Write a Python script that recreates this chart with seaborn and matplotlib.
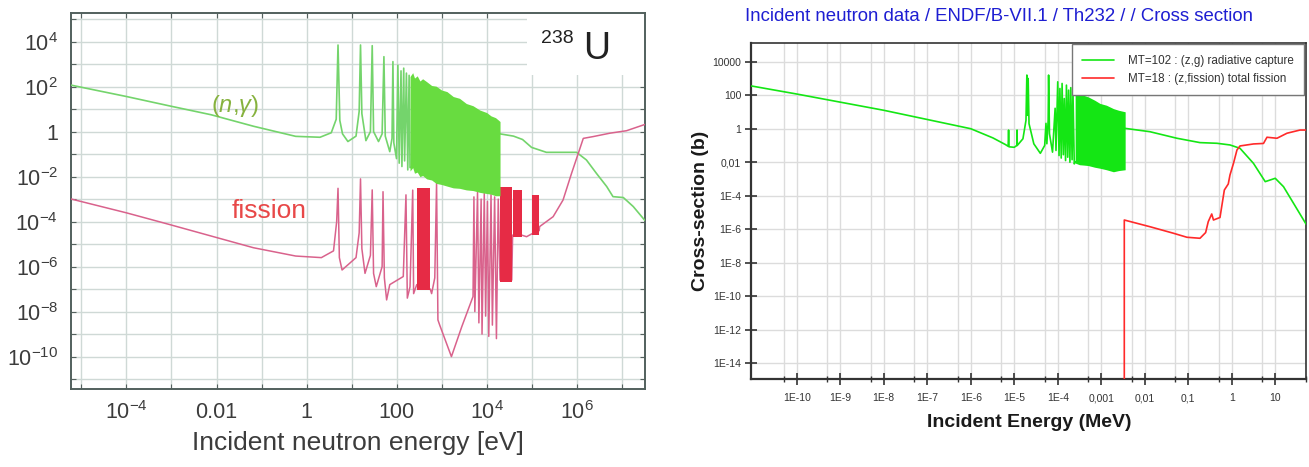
import numpy as np
import seaborn as sns
import matplotlib.pyplot as plt
from matplotlib.patches import Rectangle
from matplotlib.ticker import FixedLocator, FixedFormatter, NullLocator

# values are log10 numbers
# --- left panel: U-238, energy in eV, cross section in barn
u_cap_logE = [-5.24, -4.0, -3.06, -2.12, -1.18, -0.24, 0.30, 0.55, 0.66, 0.70, 0.74, 0.80,
              0.92, 1.10, 1.17, 1.20, 1.23, 1.32, 1.42, 1.46, 1.49, 1.60, 1.68, 1.72, 1.75,
              1.85, 1.90, 1.92, 1.94, 2.00, 2.03, 2.06, 2.10, 2.12, 2.16, 2.18, 2.22, 2.25,
              2.28, 2.30, 4.30, 4.60, 4.80, 5.00, 5.33, 6.00, 6.22, 6.44,
              6.67, 6.81, 7.04, 7.26, 7.52]
u_cap_logS = [2.07, 1.56, 1.15, 0.75, 0.24, -0.21, -0.25, -0.05, 0.55, 3.85, 0.50, -0.10,
              -0.44, -0.20, 0.90, 3.85, 0.80, -0.40, 0.00, 3.82, 0.00, -0.44, -0.10, 3.33, -0.20,
              -0.89, -0.30, 3.11, -0.50, -1.20, 2.95, -1.40, 2.70, -1.55, 2.82, -1.30, 2.60,
              -1.70, 2.50, -1.60, -0.10, -0.20, -0.35, -0.70, -0.92, -0.92, -1.26,
              -1.85, -2.44, -2.89, -2.93, -3.33, -3.95]
u_cap_band_logE = [2.30, 2.36, 2.40, 2.46, 2.52, 2.58, 2.67, 2.78, 2.88, 3.00, 3.12, 3.26,
                   3.40, 3.55, 3.70, 3.85, 4.00, 4.10, 4.20, 4.26, 4.30]
u_cap_band_top = [2.45, 2.62, 2.38, 2.48, 2.25, 2.35, 2.22, 2.05, 2.02, 1.85, 1.78, 1.56,
                  1.48, 1.25, 1.15, 0.96, 0.85, 0.70, 0.62, 0.52, 0.45]
u_cap_band_bot = [-1.75, -1.60, -1.85, -1.80, -2.00, -1.95, -2.10, -2.15, -2.30, -2.35,
                  -2.42, -2.50, -2.52, -2.59, -2.62, -2.70, -2.75, -2.78, -2.85, -2.85, -2.85]

u_fis_logE = [-5.24, -4.0, -3.06, -2.12, -1.18, -0.24, 0.33, 0.60, 0.67, 0.70, 0.73, 0.79,
              1.10, 1.17, 1.20, 1.23, 1.30, 1.42, 1.46, 1.49, 1.55, 1.68, 1.70, 1.73, 1.78,
              1.85, 2.15, 2.21, 2.24, 2.30, 2.36, 2.38, 2.45, 2.75, 2.78, 2.85, 2.89, 2.92,
              2.96, 3.22, 3.45, 3.70, 3.72, 3.74, 3.80, 3.83, 3.88, 3.90, 3.95, 3.98, 4.02,
              4.05, 4.10, 4.13, 4.18, 4.22, 4.26, 4.30, 4.56, 4.58, 4.78, 4.89, 5.00, 5.17,
              5.18, 5.48, 5.70, 5.89, 6.04, 6.15, 6.37, 6.74, 7.11, 7.52]
u_fis_logS = [-2.99, -3.61, -4.12, -4.64, -5.16, -5.53, -5.60, -5.30, -4.00, -2.52, -5.60, -6.15,
              -5.60, -4.50, -2.10, -5.20, -6.30, -5.50, -2.59, -6.30, -6.89, -6.00, -2.67, -6.50, -7.48,
              -6.80, -6.44, -2.81, -7.40, -6.90, -2.60, -7.20, -6.80, -7.00, -7.20, -6.50, -2.29, -8.37,
              -8.60, -10.0, -8.67, -7.33, -2.90, -8.00, -2.70, -8.50, -3.00, -9.00, -2.75, -8.20, -3.10,
              -9.10, -2.80, -8.60, -2.90, -9.20, -3.00, -6.60, -6.60, -4.60, -4.60, -4.67, -4.55, -4.40,
              -4.22, -3.78, -3.04, -1.85, -0.96, -0.30, -0.22, -0.07, 0.04, 0.32]
u_fis_band_start = [2.45, 4.30, 4.58, 5.00]
u_fis_band_end = [2.75, 4.56, 4.78, 5.17]
u_fis_band_top = [-2.52, -2.44, -2.60, -2.81]
u_fis_band_bot = [-7.04, -6.67, -4.67, -4.59]

left_x_exp = list(range(-5, 8))
left_x_labels = ["", r"$\mathregular{10^{-4}}$", "", "0.01", "", "1", "", "100", "",
                 r"$\mathregular{10^{4}}$", "", r"$\mathregular{10^{6}}$", ""]
left_y_exp = list(range(-11, 6))
left_y_labels = ["", r"$\mathregular{10^{-10}}$", "", r"$\mathregular{10^{-8}}$", "",
                 r"$\mathregular{10^{-6}}$", "", r"$\mathregular{10^{-4}}$", "",
                 r"$\mathregular{10^{-2}}$", "", "1", "", r"$\mathregular{10^{2}}$", "",
                 r"$\mathregular{10^{4}}$", ""]

# --- right panel: Th-232, energy in MeV
th_cap_logE = [-11.04, -10.0, -8.0, -6.0, -5.49, -5.20, -5.14, -5.13, -5.12, -5.00, -4.94,
               -4.935, -4.93, -4.80, -4.73, -4.71, -4.70, -4.68, -4.66, -4.55, -4.40, -4.30,
               -4.27, -4.25, -4.22, -4.21, -4.19, -4.12, -4.06, -4.04, -4.00, -3.97, -3.95,
               -3.92, -3.90, -3.87, -3.85, -3.82, -3.80, -3.77, -3.75, -3.72, -3.70, -3.67,
               -3.65, -3.62, -3.60, -2.45, -1.88,
               -1.26, -0.73, -0.34, -0.04, 0.19, 0.50, 0.77, 1.00, 1.19, 1.42, 1.71]
th_cap_logS = [2.55, 2.07, 1.10, 0.00, -0.55, -0.95, -1.05, -0.08, -1.08, -1.11, -1.00,
               -0.08, -1.00, -0.60, 0.50, 3.20, 0.80, 3.00, 0.30, -0.90, -1.47, -1.00,
               0.32, -0.90, 0.50, 3.20, -0.30, -1.40, 1.22, -1.30, 2.80, -1.60, 2.40,
               -1.75, 2.70, -1.55, 1.80, -1.90, 2.60, -1.70, 2.30, -2.00, 2.45, -1.85,
               2.20, -2.10, -2.00, 0.02, -0.18,
               -0.57, -0.83, -0.87, -0.97, -1.17, -2.07, -3.16, -2.96, -3.46, -4.45, -5.70]
th_cap_band_logE = [-3.60, -3.50, -3.41, -3.30, -3.15, -3.03, -2.88, -2.72, -2.60, -2.45]
th_cap_band_top = [2.25, 2.10, 2.00, 1.90, 1.70, 1.51, 1.40, 1.20, 1.10, 1.01]
th_cap_band_bot = [-2.05, -2.15, -2.17, -2.20, -2.30, -2.36, -2.45, -2.57, -2.50, -2.45]

th_fis_logE = [-2.47, -2.47, -1.88, -1.34, -1.03, -0.73, -0.60, -0.54, -0.46, -0.42, -0.27,
               -0.17, -0.12, -0.08, -0.04, 0.04, 0.12, 0.19, 0.50, 0.73, 0.81, 1.04, 1.27,
               1.57, 1.71]
th_fis_logS = [-16.0, -5.45, -5.85, -6.24, -6.48, -6.54, -6.20, -5.55, -5.09, -5.45, -5.30,
               -3.66, -3.46, -3.30, -2.76, -2.07, -1.27, -1.03, -0.91, -0.88, -0.51, -0.57,
               -0.27, -0.08, -0.08]

right_x_exp = list(range(-10, 2))
right_x_labels = ["1E-10", "1E-9", "1E-8", "1E-7", "1E-6", "1E-5", "1E-4", "0,001",
                  "0,01", "0,1", "1", "10"]
right_y_exp = [4, 2, 0, -2, -4, -6, -8, -10, -12, -14]
right_y_labels = ["10000", "100", "1", "0,01", "1E-4", "1E-6", "1E-8", "1E-10",
                  "1E-12", "1E-14"]


def exp10(v):
    return 10.0 ** np.asarray(v, dtype=float)


sns.set_style("ticks")
plt.rcParams["font.family"] = ["Liberation Sans", "DejaVu Sans"]
plt.rcParams["mathtext.fontset"] = "custom"
plt.rcParams["mathtext.rm"] = "Liberation Sans"
plt.rcParams["mathtext.it"] = "Liberation Sans:italic"

fig = plt.figure(figsize=(13.09, 4.67), dpi=100)
ax1 = fig.add_axes([0.054, 0.167, 0.4387, 0.806])
ax2 = fig.add_axes([0.5741, 0.1895, 0.4237, 0.7193])

# ---------------- left: U-238
sns.lineplot(x=exp10(u_cap_logE), y=exp10(u_cap_logS), ax=ax1, sort=False,
             estimator=None, color="#74d46c", lw=1.2, zorder=3)
ax1.fill_between(exp10(u_cap_band_logE), exp10(u_cap_band_bot), exp10(u_cap_band_top),
                 color="#68dc40", lw=0, zorder=4)
sns.lineplot(x=exp10(u_fis_logE), y=exp10(u_fis_logS), ax=ax1, sort=False,
             estimator=None, color="#d9628c", lw=1.1, zorder=3)
for s, e, t, b in zip(u_fis_band_start, u_fis_band_end, u_fis_band_top, u_fis_band_bot):
    ax1.fill_between(exp10([s, e]), exp10([b, b]), exp10([t, t]), color="#e62b45",
                     lw=0, zorder=3.5)

ax1.set(xscale="log", yscale="log", xlim=(10 ** -5.24, 10 ** 7.52),
        ylim=(10 ** -11.44, 10 ** 5.29))
ax1.xaxis.set_major_locator(FixedLocator(exp10(left_x_exp)))
ax1.xaxis.set_major_formatter(FixedFormatter(left_x_labels))
ax1.xaxis.set_minor_locator(NullLocator())
ax1.yaxis.set_major_locator(FixedLocator(exp10(left_y_exp)))
ax1.yaxis.set_major_formatter(FixedFormatter(left_y_labels))
ax1.yaxis.set_minor_locator(NullLocator())
ax1.tick_params(which="major", direction="in", length=3.5, width=0.8, color="#55625f",
                top=True, right=True, labelsize=15.5, labelcolor="#3c3c3c", pad=9)
ax1.grid(True, which="major", color="#cfd9d6", lw=1.0)
ax1.set_axisbelow(True)
for sp in ax1.spines.values():
    sp.set_color("#52605d")
    sp.set_linewidth(1.4)
ax1.set_xlabel("Incident neutron energy [eV]", fontsize=19, color="#3c3c3c", labelpad=5)
ax1.set_ylabel("")

ax1.add_patch(Rectangle((0.795, 0.834), 0.205, 0.166, transform=ax1.transAxes,
                        facecolor="white", edgecolor="none", zorder=1.5))
ax1.text(0.819, 0.930, "238", transform=ax1.transAxes, fontsize=14, color="#222222",
         ha="left", va="center", zorder=5)
ax1.text(0.892, 0.904, "U", transform=ax1.transAxes, fontsize=27, color="#222222",
         ha="left", va="center", zorder=5)
ax1.text(10 ** -1.58, 10 ** 1.12, r"$(n{,}\gamma)$", fontsize=17, color="#86b23e",
         ha="center", va="center", zorder=5)
ax1.text(10 ** -0.84, 10 ** -3.52, "fission", fontsize=19, color="#e84848",
         ha="center", va="center", zorder=5)

# ---------------- right: Th-232
ax2.fill_between(exp10(th_cap_band_logE), exp10(th_cap_band_bot), exp10(th_cap_band_top),
                 color="#14e614", lw=0, zorder=4)
sns.lineplot(x=exp10(th_cap_logE), y=exp10(th_cap_logS), ax=ax2, sort=False,
             estimator=None, color="#14e614", lw=1.2, zorder=3,
             label="MT=102 : (z,g) radiative capture")
sns.lineplot(x=exp10(th_fis_logE), y=exp10(th_fis_logS), ax=ax2, sort=False,
             estimator=None, color="#ff2a2a", lw=1.2, zorder=3,
             label="MT=18 : (z,fission) total fission")

ax2.set(xscale="log", yscale="log", xlim=(10 ** -11.04, 10 ** 1.71),
        ylim=(10 ** -14.91, 10 ** 5.14))
ax2.xaxis.set_major_locator(FixedLocator(exp10(right_x_exp)))
ax2.xaxis.set_major_formatter(FixedFormatter(right_x_labels))
ax2.xaxis.set_minor_locator(FixedLocator([5 * 10.0 ** n for n in range(-11, 2)]))
ax2.yaxis.set_major_locator(FixedLocator(exp10(right_y_exp)))
ax2.yaxis.set_major_formatter(FixedFormatter(right_y_labels))
ax2.yaxis.set_minor_locator(NullLocator())
ax2.tick_params(which="major", direction="inout", length=9, width=1.2, color="#333333",
                labelsize=7.5, labelcolor="#333333", pad=3)
ax2.tick_params(which="minor", direction="inout", length=5, width=1.0, color="#333333")
ax2.tick_params(axis="x", which="major", pad=6)
ax2.grid(True, which="major", color="#dcdcdc", lw=1.0)
ax2.grid(True, which="minor", axis="x", color="#dcdcdc", lw=1.0)
ax2.set_axisbelow(True)
for name, sp in ax2.spines.items():
    sp.set_color("#333333")
    sp.set_linewidth(1.6 if name in ("left", "bottom") else 1.2)
ax2.set_xlabel("Incident Energy (MeV)", fontsize=14, fontweight="bold",
               color="#1a1a1a", labelpad=8)
ax2.set_ylabel("Cross-section (b)", fontsize=14, fontweight="bold",
               color="#1a1a1a", labelpad=2)
leg = ax2.legend(loc="upper right", bbox_to_anchor=(1.0, 1.0), borderaxespad=0.15,
                 fontsize=8.4, handlelength=2.7, handletextpad=1.2, labelspacing=0.5,
                 borderpad=0.9, frameon=True, fancybox=False, framealpha=1)
leg.get_frame().set_edgecolor("#777777")
leg.get_frame().set_linewidth(1.0)
for t in leg.get_texts():
    t.set_color("#333333")

fig.text(0.763, 0.964, "Incident neutron data / ENDF/B-VII.1 / Th232 / / Cross section",
         ha="center", va="center", fontsize=13.4, color="#1e1ed2")

fig.savefig("out.png", dpi=100)
